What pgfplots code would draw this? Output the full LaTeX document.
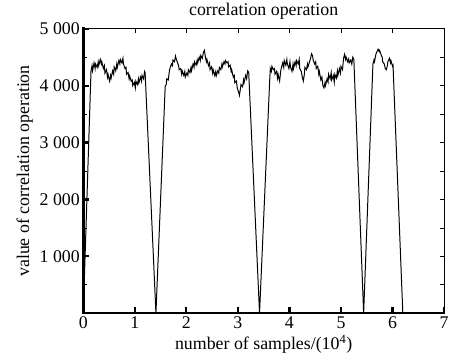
\documentclass[border=0pt]{standalone}
\usepackage{fontspec}
\setmainfont{Liberation Serif}
\usepackage{pgfplots}
\pgfplotsset{compat=1.18}
\newcommand{\chartfont}{\fontsize{18bp}{20bp}\selectfont}
\begin{document}
\begin{tikzpicture}
\begin{axis}[
  scale only axis, width=364bp, height=287bp,
  xmin=0, xmax=7, ymin=0, ymax=5000,
  xtick={0,1,2,3,4,5,6,7},
  ytick={1000,2000,3000,4000,5000},
  minor ytick={500,1500,2500,3500,4500},
  xtick pos=left, ytick pos=left,
  tick align=inside,
  major tick length=6bp, minor tick length=4bp,
  every major tick/.append style={line width=2.2bp, black},
  every minor tick/.append style={line width=0.6bp, black},
  axis line style={line width=0.8bp, black},
  /pgf/number format/1000 sep={\ },
  /pgf/number format/assume math mode=true,
  tick label style={font=\chartfont},
  label style={font=\chartfont},
  title style={font=\chartfont},
  title={correlation operation},
  xlabel={number of samples/(10\textsuperscript{4})},
  ylabel={value of correlation operation},
]
\addplot[black, line width=1bp] coordinates {
(0,0) (0.15,4250) (0.17,4350) (0.18,4260) (0.21,4400) (0.23,4300) (0.24,4380) (0.27,4320) (0.29,4420) (0.30,4350) (0.33,4460) (0.35,4380) (0.36,4420) (0.39,4300) (0.41,4350) (0.42,4220) (0.45,4280) (0.47,4150) (0.48,4200) (0.51,4080) (0.53,4180) (0.54,4130) (0.57,4260) (0.59,4200) (0.60,4330) (0.63,4260) (0.65,4380) (0.66,4320) (0.69,4440) (0.71,4380) (0.72,4460) (0.75,4400) (0.77,4480) (0.78,4380) (0.81,4300) (0.83,4320) (0.84,4200) (0.87,4230) (0.89,4120) (0.90,4170) (0.93,4080) (0.95,4100) (0.96,4000) (0.99,4060) (1.01,3960) (1.02,4080) (1.05,4020) (1.07,4120) (1.08,4050) (1.11,4150) (1.13,4080) (1.14,4180) (1.17,4120) (1.19,4250) (1.2,4230) (1.41,0)
(1.59,3990) (1.61,4020) (1.62,4120) (1.65,4100) (1.67,4250) (1.68,4300) (1.71,4380) (1.73,4350) (1.74,4450) (1.77,4420) (1.79,4520) (1.80,4480) (1.83,4400) (1.85,4350) (1.86,4280) (1.89,4300) (1.91,4200) (1.92,4260) (1.95,4180) (1.97,4250) (1.98,4150) (2.01,4220) (2.03,4180) (2.04,4280) (2.07,4230) (2.09,4320) (2.10,4260) (2.13,4380) (2.15,4320) (2.16,4420) (2.19,4360) (2.21,4450) (2.22,4400) (2.25,4500) (2.27,4440) (2.28,4530) (2.31,4480) (2.33,4580) (2.35,4620) (2.37,4500) (2.39,4420) (2.40,4460) (2.43,4350) (2.45,4400) (2.46,4280) (2.49,4330) (2.51,4220) (2.52,4280) (2.55,4180) (2.57,4250) (2.58,4170) (2.61,4260) (2.63,4220) (2.64,4320) (2.67,4280) (2.69,4380) (2.70,4330) (2.73,4420) (2.75,4380) (2.76,4440) (2.79,4400) (2.81,4420) (2.82,4330) (2.85,4360) (2.87,4250) (2.88,4280) (2.91,4150) (2.93,4180) (2.94,4050) (2.97,4080) (2.99,3950) (3.01,3900) (3.03,3830) (3.05,3950) (3.06,4020) (3.09,3980) (3.11,4100) (3.12,4050) (3.15,4180) (3.17,4120) (3.19,4260) (3.21,4230) (3.42,0)
(3.62,4150) (3.63,4300) (3.65,4250) (3.66,4340) (3.69,4280) (3.71,4300) (3.72,4200) (3.75,4250) (3.77,4130) (3.78,4200) (3.81,4080) (3.83,4250) (3.84,4300) (3.87,4400) (3.89,4320) (3.90,4440) (3.93,4360) (3.95,4460) (3.96,4380) (3.99,4300) (4.01,4420) (4.02,4330) (4.05,4250) (4.07,4380) (4.08,4300) (4.11,4420) (4.13,4350) (4.14,4440) (4.17,4380) (4.19,4460) (4.20,4300) (4.23,4250) (4.25,4150) (4.27,4080) (4.29,4200) (4.30,4320) (4.33,4280) (4.35,4380) (4.36,4330) (4.39,4420) (4.41,4480) (4.43,4560) (4.45,4520) (4.46,4450) (4.49,4380) (4.51,4420) (4.52,4300) (4.55,4340) (4.57,4200) (4.58,4250) (4.61,4100) (4.63,4150) (4.65,4000) (4.67,3960) (4.69,4050) (4.70,4000) (4.73,4120) (4.75,4060) (4.76,4200) (4.79,4120) (4.81,4230) (4.82,4100) (4.85,4180) (4.87,4060) (4.88,4200) (4.91,4130) (4.93,4260) (4.94,4180) (4.97,4300) (4.99,4220) (5.00,4340) (5.03,4280) (5.05,4480) (5.07,4550) (5.09,4460) (5.10,4500) (5.13,4420) (5.15,4470) (5.16,4400) (5.19,4450) (5.21,4380) (5.23,4500) (5.25,4460) (5.44,0)
(5.62,4380) (5.64,4450) (5.65,4420) (5.68,4560) (5.70,4600) (5.72,4640) (5.74,4600) (5.75,4620) (5.78,4540) (5.80,4500) (5.81,4420) (5.84,4380) (5.86,4300) (5.88,4280) (5.90,4350) (5.91,4420) (5.94,4480) (5.96,4400) (5.97,4440) (6.00,4340) (6.01,4360) (6.20,0)
};
\coordinate (LL) at (rel axis cs:0,0);
\coordinate (UL) at (rel axis cs:0,1);
\coordinate (LR) at (rel axis cs:1,0);
\coordinate (UR) at (rel axis cs:1,1);
\end{axis}
\begin{axis}[
  scale only axis, width=364bp, height=287bp,
  xmin=0, xmax=7, ymin=0, ymax=5000,
  xtick={1,2,3,4,5,6}, xticklabels={},
  ytick={500,1000,1500,2000,2500,3000,3500,4000,4500}, yticklabels={},
  xtick pos=right, ytick pos=right,
  tick align=inside,
  major tick length=4bp,
  every major tick/.append style={line width=0.6bp, black},
  axis line style={line width=0.8bp, black},
]
\end{axis}
\draw[line width=2.6bp, black, line cap=rect] (UL) -- (LL) -- (LR);
\pgfresetboundingbox
\path ([shift={(-84bp,-47bp)}]LL) rectangle ([shift={(5bp,29bp)}]UR);
\end{tikzpicture}
\end{document}
